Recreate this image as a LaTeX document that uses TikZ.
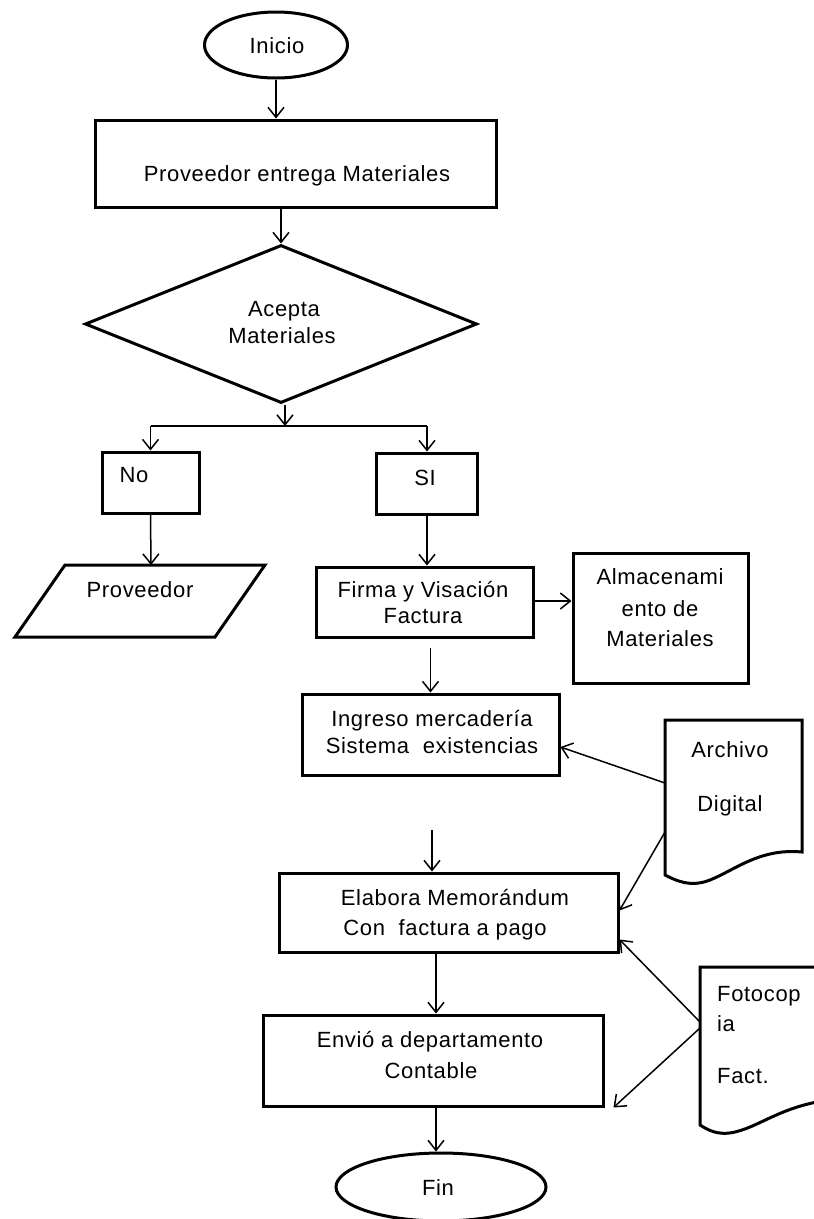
\documentclass[tikz,border=0pt]{standalone}
\usepackage{fontspec}
\setmainfont{Liberation Sans}[LetterSpace=3]
\usetikzlibrary{shapes.geometric,arrows.meta}
\tikzset{
  shp/.style={draw=black, line width=3pt, inner sep=0pt, fill=white},
  boxn/.style={shp, rectangle},
  ovaln/.style={shp, ellipse},
  diam/.style={shp, diamond},
  txt/.style={inner sep=0pt, anchor=base, font=\fontsize{22}{26}\selectfont},
  txtl/.style={txt, anchor=base west},
  arr/.style={line width=1.5pt, -{Straight Barb[length=10pt,width=16pt,line width=1.5pt]}},
  ln/.style={line width=1.5pt},
}
\begin{document}
\begin{tikzpicture}[x=1pt,y=-1pt]
\useasboundingbox (0,0) rectangle (814,1219);
\begin{scope}
\clip (0,0) rectangle (814,1219);
% shapes
\node[ovaln, minimum width=143pt, minimum height=66pt] (inicio) at (276,45) {};
\node[boxn, minimum width=401pt, minimum height=87pt] (b1) at (295.5,163.5) {};
\node[diam, minimum width=392pt, minimum height=158pt] (dia) at (281,324) {};
\node[boxn, minimum width=97pt, minimum height=61pt] (no) at (150.5,482.5) {};
\node[boxn, minimum width=101pt, minimum height=61pt] (si) at (427,483.5) {};
\draw[line width=3pt, line join=miter] (65,565) -- (265,565) -- (215,637) -- (15,637) -- cycle;
\coordinate (provtop) at (151,565);
\node[boxn, minimum width=217pt, minimum height=70pt] (firma) at (424.5,602) {};
\node[boxn, minimum width=175pt, minimum height=130pt] (alm) at (660.5,618) {};
\node[boxn, minimum width=257pt, minimum height=81pt] (ingreso) at (430.5,734.5) {};
\node[boxn, minimum width=339pt, minimum height=79pt] (elabora) at (448.5,912.5) {};
\node[boxn, minimum width=340pt, minimum height=91pt] (envio) at (433,1060.5) {};
\node[ovaln, minimum width=210pt, minimum height=68pt] (fin) at (441,1187) {};
% documents
\draw[line width=3pt, fill=white] (665,720) -- (802,720) -- (802,852)
   .. controls (760,848) and (735,870) .. (710,880)
   .. controls (690,888) and (675,880) .. (665,875) -- cycle;
\draw[line width=3pt, fill=white] (700,967) -- (860,967) -- (860,1098)
   .. controls (790,1098) and (765,1125) .. (735,1132)
   .. controls (718,1136) and (708,1130) .. (700,1125) -- cycle;
\coordinate (arch1) at (665,783);
\coordinate (arch2) at (665,832);
\coordinate (foto1) at (700,1022);
\coordinate (foto2) at (700,1028);
% texts
\node[txt] (t1) at (277,53) {Inicio};
\node[txt] (t2) at (297,181) {Proveedor entrega Materiales};
\node[txt] (t3) at (284,316) {Acepta};
\node[txt] (t4) at (282,343) {Materiales};
\node[txt] (t5) at (134,482) {No};
\node[txt] (t6) at (425,485) {SI};
\node[txt] (t7) at (140,597) {Proveedor};
\node[txt] (t8) at (423,597) {Firma y Visación};
\node[txt] (t9) at (423,623) {Factura};
\node[txt] (t10) at (660,584) {Almacenami};
\node[txt] (t11) at (660,616) {ento de};
\node[txt] (t12) at (660,646) {Materiales};
\node[txt] (t13) at (432,726) {Ingreso mercadería};
\node[txt] (t14) at (432,753) {Sistema\ \ existencias};
\node[txt] (t15) at (455,905) {Elabora Memorándum};
\node[txt] (t16) at (445,935) {Con\ \ factura a pago};
\node[txt] (t17) at (430,1047) {Envió a departamento};
\node[txt] (t18) at (431,1078) {Contable};
\node[txt] (t19) at (438,1195) {Fin};
\node[txt] (t20) at (730,757) {Archivo};
\node[txt] (t21) at (730,811) {Digital};
\node[txtl] (t22) at (717,1001) {Fotocop};
\node[txtl] (t23) at (717,1031) {ia};
\node[txtl] (t24) at (717,1083) {Fact.};
% connectors
\draw[arr] (inicio.south) -- (inicio.south |- b1.north);
\draw[arr] (dia.north |- b1.south) -- (dia.north);
\coordinate (split) at (285,426);
\draw[arr] (dia.south -| split) -- (split);
\draw[ln] (no.north |- split) -- (si.north |- split);
\draw[arr] (no.north |- split) -- (no.north);
\draw[arr] (si.north |- split) -- (si.north);
\draw[arr] (no.south) -- (provtop);
\draw[arr] (si.south) -- (si.south |- firma.north);
\draw[arr] (firma.east |- 0,601) -- (alm.west |- 0,601);
\draw[arr, shorten <=9pt] (ingreso.north |- firma.south) -- (ingreso.north);
\coordinate (g2) at (432,830);
\draw[arr] (g2) -- (g2 |- elabora.north);
\draw[arr] (elabora.south -| 436,0) -- (envio.north -| 436,0);
\draw[arr] (envio.south -| 436,0) -- (fin.north -| 436,0);
\draw[arr] (arch1) -- ([yshift=-12.5pt]ingreso.east);
\draw[arr] (arch2) -- ([yshift=2pt]elabora.east);
\draw[arr] (foto1) -- ([yshift=14pt]elabora.south east);
\draw[arr] (foto2) -- ([xshift=9pt]envio.south east);
\end{scope}
\end{tikzpicture}
\end{document}
